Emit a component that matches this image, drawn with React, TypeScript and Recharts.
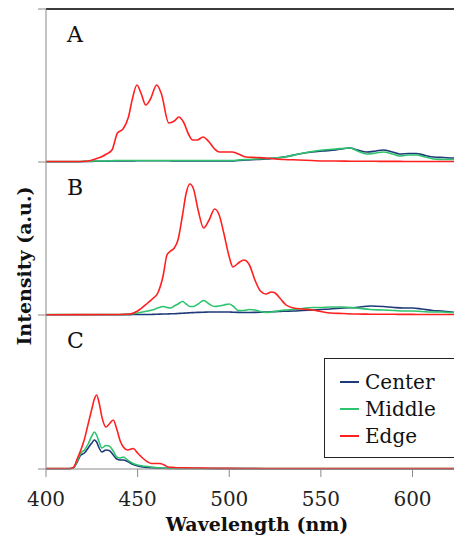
import { LineChart, Line, XAxis, YAxis, ReferenceLine, Legend } from "recharts";

// wavelength grid (nm) and intensities (a.u.) per panel
const wlA = [400, 415, 423, 427, 430, 433, 436, 439, 442, 445, 447, 449.6, 452, 454.4, 457, 460.4, 463, 467, 470, 472.5, 475, 478, 480, 482.5, 485.7, 489, 492, 494.5, 498, 501.5, 505, 509, 515, 520, 525, 530, 538, 545, 551, 558, 566, 570, 575, 580, 584, 589, 593, 598, 602, 607, 611.5, 617, 622, 627];
const edgeA = [0.5, 0.5, 1, 3, 5, 8, 12, 29, 33, 45, 62, 77, 68, 57, 63, 77, 68, 39, 41, 45, 40, 27, 22, 22, 25, 20, 13, 10, 10, 10, 8, 5, 4.5, 4, 3, 2.5, 2, 1.5, 1, 1, 0.8, 0.7, 0.7, 0.7, 0.6, 0.6, 0.6, 0.5, 0.5, 0.5, 0.5, 0.5, 0.5, 0.5];
const middleA = [0.5, 0.5, 0.8, 1, 1, 1, 1.2, 1.5, 1.5, 1.5, 1.5, 1.5, 1.5, 1.5, 1.5, 1.5, 1.5, 1.5, 1.5, 1.5, 1.5, 1.5, 1.5, 1.5, 1.5, 1.5, 1.5, 1.5, 1.5, 1.5, 2, 2.5, 3, 3.5, 4, 5, 8, 10.5, 12, 13, 14, 11, 8, 9, 10, 8, 6, 7, 7, 5, 3, 2.5, 2.5, 2.5];
const centerA = [0.3, 0.3, 0.5, 0.7, 0.8, 0.8, 1, 1, 1, 1, 1, 1.2, 1.2, 1.2, 1.2, 1.2, 1.2, 1.2, 1, 1, 1, 1, 1, 1, 1, 1, 1, 1, 1, 1, 1.5, 2, 2.5, 3, 4, 5, 8, 10, 11, 12, 14, 12, 10, 11, 12, 10, 8, 8.5, 8.5, 6.5, 5, 4.5, 4, 4];

const wlB = [400, 440, 446, 450, 455.5, 458, 461, 464, 466, 468, 470, 472, 474.5, 476.5, 478.5, 480.5, 483, 486, 489, 492, 494.5, 497, 500, 502, 505, 508, 511, 514, 517, 520, 523, 525, 528, 531, 535, 540, 545.6, 550, 555, 562, 569, 577, 584, 590, 595, 600, 605, 611, 616, 621, 627];
const edgeB = [0.3, 0.5, 1, 4, 12, 16, 22, 40, 60, 64, 67, 75, 100, 122, 131, 126, 105, 87, 95, 106, 100, 82, 58, 48, 52, 55, 50, 35, 24, 21, 23, 22, 16, 10, 7, 6, 5, 3.5, 2, 1.5, 1, 0.8, 0.7, 0.7, 0.6, 0.6, 0.5, 0.5, 0.5, 0.5, 0.5];
const middleB = [0.5, 0.5, 1, 2, 4, 5, 7, 8.5, 7.5, 7, 9, 11, 13.5, 11, 8.5, 8.5, 11, 14.5, 11, 8.5, 9, 10, 11, 9, 4.5, 4.5, 5.5, 5, 3.5, 2.5, 3, 3.5, 4.5, 5, 5.5, 6.5, 7.5, 7.5, 8, 8, 7, 5.5, 5, 4.5, 4, 4, 3.5, 3, 3, 2.5, 2.5];
const centerB = [0.3, 0.3, 0.4, 0.5, 0.5, 0.6, 0.8, 1, 1, 1.2, 1.3, 1.5, 1.7, 2, 2.2, 2.4, 2.6, 2.8, 3, 3, 3, 3, 3, 2.8, 2.6, 2.5, 2.5, 2.6, 2.8, 3, 3.2, 3.4, 3.6, 3.8, 4, 4.5, 5, 5.5, 6, 7, 7.5, 9, 8.5, 7.5, 7, 7, 6, 4.5, 4, 3, 2.5];

const wlC = [400, 413, 415, 417, 419, 421, 423, 425, 426.4, 427.6, 429, 430.5, 432.7, 434.5, 436.7, 438.6, 440.5, 442.2, 444.5, 447.6, 450, 453, 455.5, 457.6, 460, 462, 464.5, 466.6, 470, 475, 480, 490, 500, 520, 560, 600, 627];
const edgeC = [0.5, 0.5, 1.5, 10, 19, 30, 45, 60, 70, 74, 66, 52, 42, 45, 49, 40, 28, 22, 19, 20.5, 16, 10.5, 7, 5.5, 5.5, 5.5, 4, 2, 1.5, 1.2, 1, 0.8, 0.6, 0.5, 0.5, 0.5, 0.5];
const middleC = [0.5, 0.5, 1.5, 8, 16, 19, 25, 33, 37, 34, 27, 21, 23.5, 23, 18, 12, 11, 12, 9, 5.5, 4, 3, 2.5, 2, 1.5, 1.2, 1, 0.8, 0.7, 0.6, 0.6, 0.5, 0.5, 0.5, 0.5, 0.5, 0.5];
const centerC = [0.3, 0.3, 1.2, 7, 14, 16, 21, 26, 29, 27, 21, 17, 19, 18.5, 14, 10, 9, 9, 7.5, 4.5, 3, 2, 1.5, 1.2, 1, 0.8, 0.7, 0.6, 0.5, 0.5, 0.5, 0.4, 0.4, 0.3, 0.3, 0.3, 0.3];

const xTicks = [400, 450, 500, 550, 600];
const seriesNames = ["Center", "Middle", "Edge"];
const seriesColors = ["#1f3a78", "#2ec46e", "#ff2020"];

const FONT = "'DejaVu Serif', serif";
const AXIS_GRAY = "#8a8a8a";
const X_DOMAIN: [number, number] = [400, 627];
const W = 462;

function rows(wl: number[], center: number[], middle: number[], edge: number[]) {
  return wl.map((w, i) => ({ wl: w, center: center[i], middle: middle[i], edge: edge[i] }));
}

const LegendBox = () => (
  <div
    style={{
      width: 133,
      height: 100,
      border: "1.5px solid #222",
      boxSizing: "border-box",
      background: "#fff",
      fontFamily: FONT,
      fontSize: 20,
      color: "#111",
      paddingTop: 9,
    }}
  >
    {seriesNames.map((n, i) => (
      <div key={n} style={{ display: "flex", alignItems: "center", height: 27 }}>
        <span style={{ width: 19, height: 2, marginLeft: 15, marginRight: 6, background: seriesColors[i] }} />
        <span>{n}</span>
      </div>
    ))}
  </div>
);

interface PanelProps {
  data: ReturnType<typeof rows>;
  max: number;
  top: number;
  plotHeight: number;
  label: string;
  first?: boolean;
  last?: boolean;
}

function Panel({ data, max, top, plotHeight, label, first, last }: PanelProps) {
  const pad = 4;
  const axisH = last ? 68 : 0;
  const height = plotHeight + pad + (last ? axisH : pad);
  return (
    <div style={{ position: "absolute", left: 0, top: top - pad, width: W, height }}>
      <LineChart
        width={W}
        height={height}
        data={data}
        margin={{ top: pad, right: 0, left: 0, bottom: last ? 0 : pad }}
      >
        <XAxis
          dataKey="wl"
          type="number"
          domain={X_DOMAIN}
          allowDataOverflow
          ticks={xTicks}
          hide={!last}
          height={axisH}
          stroke={AXIS_GRAY}
          tickSize={8}
          tickMargin={15}
          tick={{ fill: "#222", fontSize: 20, fontFamily: FONT }}
          label={{
            value: "Wavelength (nm)",
            position: "insideBottom",
            offset: 6,
            dx: 3,
            style: { fontFamily: FONT, fontWeight: "bold", fontSize: 19, fill: "#111" },
          }}
        />
        <YAxis
          type="number"
          domain={[0, max]}
          ticks={first ? [0, max] : [0]}
          width={46}
          stroke={AXIS_GRAY}
          tickSize={8}
          tickFormatter={() => ""}
        />
        {first && <ReferenceLine y={max} stroke="#3c3c3c" strokeWidth={2} />}
        <Line dataKey="center" name="Center" stroke={seriesColors[0]} strokeWidth={1.6} dot={false} type="monotone" isAnimationActive={false} />
        <Line dataKey="middle" name="Middle" stroke={seriesColors[1]} strokeWidth={1.6} dot={false} type="monotone" isAnimationActive={false} />
        <Line dataKey="edge" name="Edge" stroke={seriesColors[2]} strokeWidth={1.6} dot={false} type="monotone" isAnimationActive={false} />
        {last && (
          <Legend
            layout="horizontal"
            verticalAlign="middle"
            align="center"
            content={() => <LegendBox />}
            wrapperStyle={{ position: "absolute", left: 324, top: 358 - (top - pad), width: 133 }}
          />
        )}
      </LineChart>
      <div
        style={{
          position: "absolute",
          left: 67,
          top: 18,
          fontFamily: FONT,
          fontSize: 22,
          color: "#111",
          lineHeight: "24px",
        }}
      >
        {label}
      </div>
    </div>
  );
}

export default function App() {
  return (
    <div style={{ position: "relative", width: W, height: 537, marginLeft: -8, marginTop: -8, background: "#fff" }}>
      <Panel data={rows(wlA, centerA, middleA, edgeA)} max={153} top={9} plotHeight={153} label="A" first />
      <Panel data={rows(wlB, centerB, middleB, edgeB)} max={153} top={162} plotHeight={153} label="B" />
      <Panel data={rows(wlC, centerC, middleC, edgeC)} max={154} top={315} plotHeight={154} label="C" last />
      <svg style={{ position: "absolute", left: 0, top: 0 }} width={46} height={537}>
        <text
          transform="translate(31,266) rotate(-90)"
          textAnchor="middle"
          fontFamily={FONT}
          fontWeight="bold"
          fontSize={19}
          fill="#111"
        >
          Intensity (a.u.)
        </text>
      </svg>
    </div>
  );
}
